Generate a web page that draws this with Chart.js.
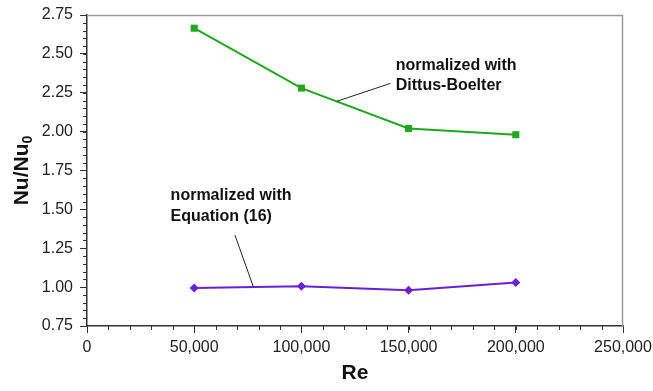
<!DOCTYPE html>
<html>
<head>
<meta charset="utf-8">
<script src="https://cdn.jsdelivr.net/npm/chart.js@4/dist/chart.umd.min.js"></script>
<style>
  html, body { margin: 0; padding: 0; background: #fff; }
  #wrap { width: 653px; height: 391px; position: relative; }
</style>
</head>
<body>
<div id="wrap"><canvas id="nu-chart"></canvas></div>
<script>
// Data.
const reValues     = [50000, 100000, 150000, 200000];
const dittusValues = [2.665, 2.28, 2.02, 1.98];
const eq16Values   = [0.995, 1.005, 0.98, 1.03];
const xTicks       = [0, 50000, 100000, 150000, 200000, 250000];
const yTicks       = [0.75, 1.00, 1.25, 1.50, 1.75, 2.00, 2.25, 2.50, 2.75];

const FONT = "'Liberation Sans', Arial, sans-serif";
const GREEN = '#1fa81f';
const PURPLE = '#6a1fd4';

const toPoints = (xs, ys) => xs.map((x, i) => ({ x: x, y: ys[i] }));

// Minor ticks, frame, axis titles and the two callout labels.
const extras = {
    id: 'extras',
    afterDraw(chart) {
        const ctx = chart.ctx;
        const xs = chart.scales.x, ys = chart.scales.y;
        const a = chart.chartArea;
        ctx.save();

        // top / right frame
        ctx.strokeStyle = '#9a9a9a';
        ctx.lineWidth = 1.5;
        ctx.beginPath();
        ctx.moveTo(a.left, a.top + 0.5);
        ctx.lineTo(a.right - 0.5, a.top + 0.5);
        ctx.lineTo(a.right - 0.5, a.bottom);
        ctx.stroke();

        // minor ticks
        ctx.strokeStyle = '#333';
        ctx.lineWidth = 1;
        ctx.beginPath();
        for (let v = 0.80; v < 2.75; v += 0.05) {
            const y = Math.round(ys.getPixelForValue(v)) + 0.5;
            ctx.moveTo(a.left - 4, y);
            ctx.lineTo(a.left, y);
        }
        for (let v = 10000; v < 250000; v += 10000) {
            const x = Math.round(xs.getPixelForValue(v)) + 0.5;
            ctx.moveTo(x, a.bottom);
            ctx.lineTo(x, a.bottom + 4);
        }
        ctx.stroke();

        // callout leader lines
        ctx.strokeStyle = '#222';
        ctx.lineWidth = 1;
        ctx.beginPath();
        ctx.moveTo(xs.getPixelForValue(116500), ys.getPixelForValue(2.195));
        ctx.lineTo(xs.getPixelForValue(141500), ys.getPixelForValue(2.31));
        ctx.moveTo(xs.getPixelForValue(69000), ys.getPixelForValue(1.335));
        ctx.lineTo(xs.getPixelForValue(77500), ys.getPixelForValue(1.005));
        ctx.stroke();

        // callout text
        ctx.fillStyle = '#111';
        ctx.font = 'bold 16px ' + FONT;
        ctx.textAlign = 'left';
        ctx.textBaseline = 'middle';
        const gx = xs.getPixelForValue(144000);
        ctx.fillText('normalized with', gx, ys.getPixelForValue(2.425));
        ctx.fillText('Dittus-Boelter', gx, ys.getPixelForValue(2.295));
        const px = xs.getPixelForValue(39000);
        ctx.fillText('normalized with', px, ys.getPixelForValue(1.59));
        ctx.fillText('Equation (16)', px, ys.getPixelForValue(1.452));

        // x title
        ctx.font = 'bold 21px ' + FONT;
        ctx.textAlign = 'center';
        ctx.fillText('Re', (a.left + a.right) / 2, 373);

        // y title with subscript
        ctx.translate(22, (a.top + a.bottom) / 2);
        ctx.rotate(-Math.PI / 2);
        const main = 'Nu/Nu';
        ctx.font = 'bold 21px ' + FONT;
        const w1 = ctx.measureText(main).width;
        ctx.font = 'bold 14px ' + FONT;
        const w2 = ctx.measureText('0').width;
        const start = -(w1 + w2) / 2;
        ctx.textAlign = 'left';
        ctx.font = 'bold 21px ' + FONT;
        ctx.fillText(main, start, 0);
        ctx.font = 'bold 14px ' + FONT;
        ctx.fillText('0', start + w1, 6);
        ctx.restore();
    }
};

new Chart(document.getElementById('nu-chart'), {
    type: 'scatter',
    data: {
        datasets: [{
            label: 'normalized with Dittus-Boelter',
            data: toPoints(reValues, dittusValues),
            showLine: true,
            borderColor: GREEN,
            backgroundColor: GREEN,
            borderWidth: 2,
            pointStyle: 'rect',
            pointRadius: 5,
            pointBorderWidth: 0
        }, {
            label: 'normalized with Equation (16)',
            data: toPoints(reValues, eq16Values),
            showLine: true,
            borderColor: PURPLE,
            backgroundColor: PURPLE,
            borderWidth: 2,
            pointStyle: 'rectRot',
            pointRadius: 4.5,
            pointBorderWidth: 0
        }]
    },
    options: {
        responsive: true,
        maintainAspectRatio: false,
        animation: false,
        layout: { padding: { top: 15, right: 30, left: 0, bottom: 0 } },
        plugins: {
            legend: { display: false },
            tooltip: { enabled: false }
        },
        scales: {
            x: {
                type: 'linear',
                min: 0,
                max: 250000,
                afterBuildTicks: s => { s.ticks = xTicks.map(v => ({ value: v })); },
                afterFit: s => { s.height = 65; s.paddingLeft = 0; s.paddingRight = 0; },
                border: { display: true, color: '#333', width: 1.5 },
                grid: { drawOnChartArea: false, tickLength: 7, color: '#333' },
                ticks: {
                    color: '#222',
                    padding: 5,
                    maxRotation: 0,
                    font: { family: FONT, size: 16 },
                    callback: v => v.toLocaleString('en-US')
                }
            },
            y: {
                type: 'linear',
                min: 0.75,
                max: 2.75,
                afterBuildTicks: s => { s.ticks = yTicks.map(v => ({ value: v })); },
                afterFit: s => { s.width = 87; s.paddingTop = 0; s.paddingBottom = 0; },
                border: { display: true, color: '#333', width: 1.5 },
                grid: { drawOnChartArea: false, tickLength: 7, color: '#333' },
                ticks: {
                    color: '#222',
                    padding: 7,
                    font: { family: FONT, size: 16 },
                    callback: v => v.toFixed(2)
                }
            }
        }
    },
    plugins: [extras]
});
</script>
</body>
</html>
